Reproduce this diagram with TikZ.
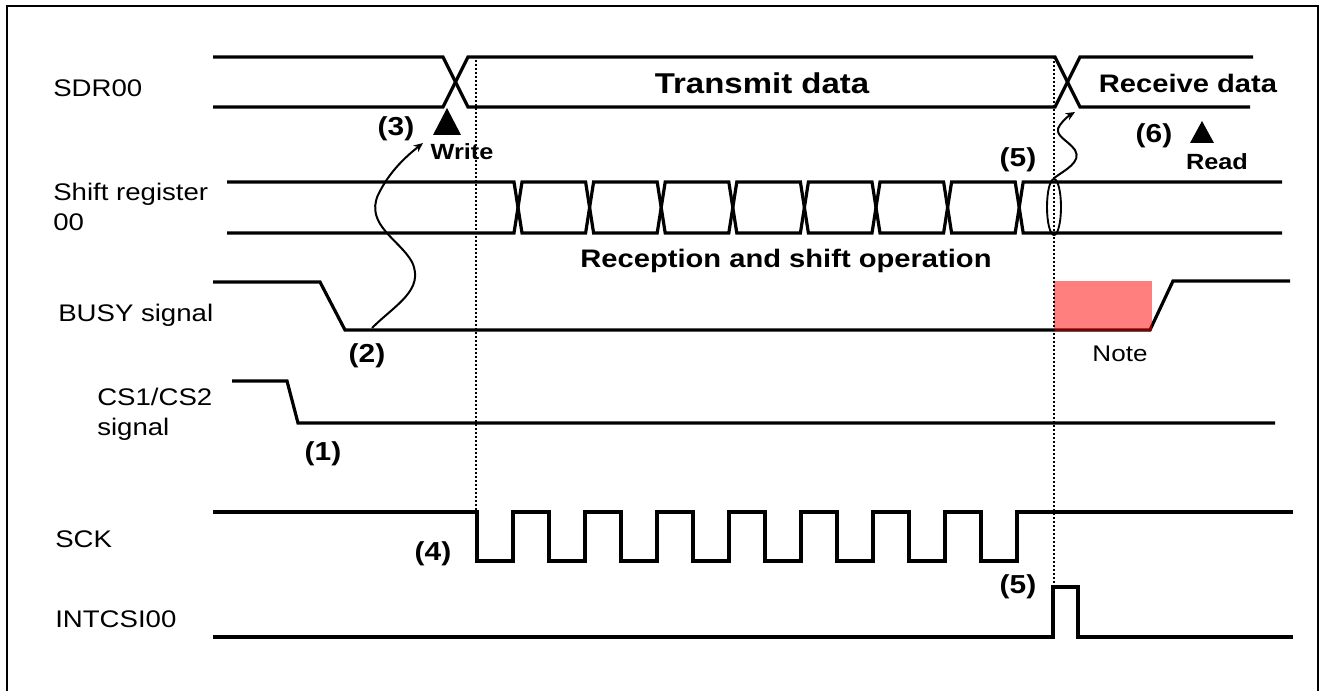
\documentclass[tikz,border=0pt]{standalone}
\usepackage{fontspec}
\setmainfont{Liberation Sans}[FakeStretch=1.15]
\usetikzlibrary{arrows.meta,shapes.geometric}

\tikzset{
  sig/.style={line width=2.4pt},
  guide/.style={line width=1.5pt, dash pattern=on 1.5pt off 1.5pt},
  wave/.style={line width=1.5pt, -{Stealth[length=7pt,width=6pt]}},
  lbl/.style={inner sep=0pt, anchor=base west, font=\fontsize{18}{21.6}\selectfont},
  num/.style={inner sep=0pt, anchor=base, font=\bfseries\fontsize{19.5}{22}\selectfont},
  phase/.style={inner sep=0pt, anchor=base, font=\bfseries\fontsize{19}{22}\selectfont},
  acc/.style={inner sep=0pt, anchor=base, font=\bfseries\fontsize{16.5}{20}\selectfont},
}

\begin{document}
\begin{tikzpicture}[x=0.75pt, y=-0.75pt]
  \useasboundingbox (0,0) rectangle (1325,691);
  \draw[line width=1.5pt] (7,700) -- (7,6) -- (1318,6) -- (1318,700);

  \node[lbl] (sdr) at (53,97) {SDR00};
  \node[lbl, anchor=north west, align=left] (shreg) at (53,183) {Shift register\\[0.5pt]00};
  \node[lbl] (busy) at (58,322) {BUSY signal};
  \node[lbl, anchor=north west, align=left] (cs) at (97,388) {CS1/CS2\\[1pt]signal};
  \node[lbl] (sck) at (55,547) {SCK};
  \node[lbl] (intr) at (55,627) {INTCSI00};

  % SDR00
  \draw[sig] (213,57) -- (443,57) -- (468,107) -- (1055,107) -- (1080,57) -- (1253,57);
  \draw[sig] (213,107) -- (443,107) -- (468,57) -- (1055,57) -- (1080,107) -- (1250,107);
  \node[phase, font=\bfseries\fontsize{21.5}{24}\selectfont] (tx) at (762,94) {Transmit data};
  \node[phase] (rx) at (1188,93) {Receive data};

  % shift register 00
  \draw[sig] (227,182) foreach \k in {0,2,4,6} {
      -- ({514+71.6*\k},182) -- ({522+71.6*\k},233)
      -- ({514+71.6*(\k+1)},233) -- ({522+71.6*(\k+1)},182)} -- (1282,182);
  \draw[sig] (227,233) foreach \k in {0,2,4,6} {
      -- ({514+71.6*\k},233) -- ({522+71.6*\k},182)
      -- ({514+71.6*(\k+1)},182) -- ({522+71.6*(\k+1)},233)} -- (1282,233);
  \node[phase] (shop) at (786,268) {Reception and shift operation};

  % BUSY
  \draw[sig] (213,282) -- (320,282) -- (345,330) -- (1150,330) -- (1173,281) -- (1290,281);
  \fill[red, fill opacity=0.5] (1054,281) rectangle (1152,331.5);
  \node[lbl, font=\fontsize{17}{20}\selectfont, anchor=base] (note) at (1120,362) {Note};

  % CS1/CS2
  \draw[sig] (232,381) -- (287,381) -- (298,423) -- (1275,423);

  % SCK
  \draw[sig] (213,512) -- (477,512) foreach \k in {0,...,7} {
      -- ({477+72*\k},561) -- ({513+72*\k},561)
      -- ({513+72*\k},512) -- ({549+72*\k},512)} -- (1293,512);

  % INTCSI00
  \draw[sig] (213,637) -- (1053,637) -- (1053,587) -- (1078,587) -- (1078,637) -- (1293,637);

  % guides
  \draw[guide] (476,60) -- (476,540);
  \draw[guide] (1054,57) -- (1054,587);

  % markers
  \fill (447,108) -- (461,135) -- (433,135) -- cycle;
  \fill (1202,121) -- (1214,143) -- (1190,143) -- cycle;
  \node[acc] (wr) at (462,160) {Write};
  \node[acc] (rd) at (1217,170) {Read};

  \node[num] (n1) at (323,460) {(1)};
  \node[num] (n2) at (367,363) {(2)};
  \node[num] (n3) at (396,136) {(3)};
  \node[num] (n4) at (433,560) {(4)};
  \node[num] (n5a) at (1018,167) {(5)};
  \node[num] (n5b) at (1018,593) {(5)};
  \node[num] (n6) at (1154,143) {(6)};

  % causal arrows
  \node[draw, ellipse, line width=1.4pt, inner sep=0pt, minimum width=10.5pt, minimum height=42pt] (ring) at (1054,207) {};
  \coordinate (busyq) at (372,328);
  \coordinate (wrtip) at (423,143);
  \coordinate (rdtip) at (1075,112);
  \draw[wave] (busyq) .. controls (395,305) and (425,290) .. (412,262)
    .. controls (400,240) and (365,225) .. (378,195)
    .. controls (390,170) and (408,155) .. (wrtip);
  \draw[wave] (ring.north) .. controls (1065,170) and (1082,162) .. (1075,150)
    .. controls (1068,140) and (1052,135) .. (1060,125)
    .. controls (1064,119) and (1070,115) .. (rdtip);
\end{tikzpicture}
\end{document}
